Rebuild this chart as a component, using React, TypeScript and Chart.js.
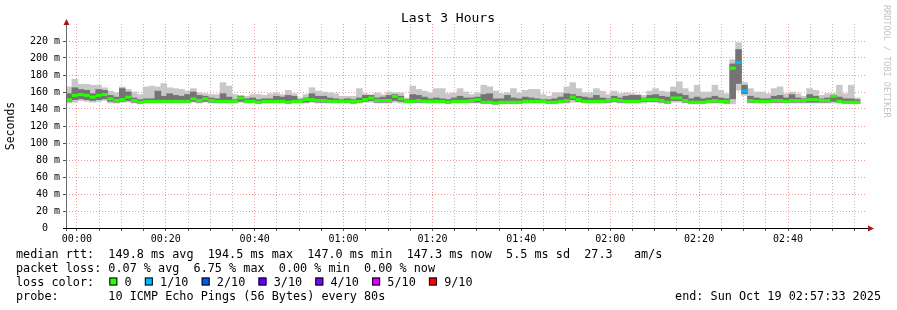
import React, { useEffect, useRef } from "react";
import { Chart, registerables } from "chart.js";

Chart.register(...registerables);

// time axis: minutes since 00:00, window ends at 02:57:33, 80 s steps
const START_MIN = -2.45;
const WINDOW_MIN = 180;
const STEP_MIN = 80 / 60;

const yTickValues = [0, 20, 40, 60, 80, 100, 120, 140, 160, 180, 200, 220];
const yTickLabels = ["0  ", "20 m", "40 m", "60 m", "80 m", "100 m", "120 m", "140 m", "160 m", "180 m", "200 m", "220 m"];
const xTickLabels = ["00:00", "00:20", "00:40", "01:00", "01:20", "01:40", "02:00", "02:20", "02:40"];

// median rtt (ms) per 80 s step
const medianRtt = [
  151, 156, 157, 156, 154, 156, 157, 152, 150, 151,
  154, 150, 148, 149, 149, 149, 149, 149, 149, 149,
  149, 152, 150, 152, 150, 149, 149, 149, 149, 153,
  149, 149, 148, 149, 149, 149, 149, 148, 149, 149,
  151, 151, 150, 150, 149, 149, 149, 149, 149, 149,
  151, 153, 150, 150, 150, 155, 152, 149, 149, 150,
  149, 149, 149, 149, 148, 149, 149, 149, 150, 151,
  148, 148, 147, 148, 148, 148, 148, 149, 149, 149,
  149, 148, 148, 149, 150, 154, 151, 149, 149, 149,
  149, 150, 151, 150, 149, 149, 149, 151, 151, 151,
  150, 148, 153, 153, 150, 148, 148, 148, 149, 150,
  149, 149, 188, 194.5, 161, 150, 149, 149, 149, 150,
  150, 149, 150, 150, 150, 151, 151, 150, 150, 155,
  149, 148, 148, 148,
];
// max ping (top of smoke)
const smokeHi = [
  166, 175, 169, 169, 168, 168, 165, 161, 159, 166,
  163, 160, 157, 166, 167, 166, 170, 165, 164, 163,
  161, 164, 159, 158, 157, 157, 171, 167, 157, 156,
  155, 157, 157, 156, 158, 159, 157, 162, 158, 153,
  157, 165, 161, 160, 159, 158, 155, 155, 155, 164,
  158, 157, 159, 157, 160, 159, 159, 153, 167, 163,
  161, 159, 164, 164, 158, 159, 164, 160, 157, 159,
  168, 166, 161, 158, 159, 164, 159, 162, 163, 163,
  157, 155, 159, 159, 166, 171, 164, 159, 159, 164,
  161, 157, 161, 158, 159, 158, 157, 156, 161, 164,
  161, 160, 166, 172, 164, 160, 168, 160, 160, 168,
  162, 158, 198, 218, 171, 164, 160, 160, 158, 164,
  166, 158, 160, 158, 155, 164, 162, 156, 158, 158,
  168, 158, 168, 153,
];
// min ping (bottom of smoke)
const smokeLo = [
  147, 148, 150, 149, 148, 149, 150, 147, 147, 148,
  148, 147, 146, 147, 147, 147, 147, 147, 147, 147,
  147, 148, 147, 148, 147, 147, 147, 147, 147, 148,
  147, 147, 146, 147, 147, 147, 147, 146, 147, 147,
  147, 148, 147, 147, 147, 147, 147, 147, 146, 147,
  148, 148, 147, 147, 147, 148, 147, 147, 147, 147,
  147, 147, 147, 147, 146, 147, 147, 147, 147, 147,
  146, 146, 145, 146, 146, 146, 146, 147, 147, 147,
  147, 146, 146, 147, 147, 148, 148, 147, 147, 147,
  147, 147, 148, 147, 147, 147, 147, 147, 148, 148,
  147, 146, 148, 148, 147, 146, 146, 146, 147, 147,
  147, 146, 146, 162, 156, 147, 147, 147, 147, 147,
  147, 147, 147, 147, 147, 147, 147, 147, 147, 147,
  147, 146, 146, 146,
];
// inner pings (darker smoke)
const coreHi = [
  158, 165, 163, 162, 158, 163, 162, 156, 154, 164,
  160, 153, 151, 152, 152, 161, 155, 158, 156, 155,
  157, 160, 156, 155, 153, 152, 158, 154, 151, 155,
  152, 153, 151, 152, 152, 155, 154, 156, 155, 151,
  153, 158, 155, 155, 153, 152, 151, 152, 151, 153,
  156, 156, 153, 154, 156, 157, 155, 151, 157, 156,
  154, 152, 153, 152, 151, 153, 155, 153, 153, 154,
  157, 158, 152, 152, 156, 153, 152, 154, 153, 152,
  151, 151, 152, 154, 158, 157, 155, 154, 153, 156,
  153, 152, 155, 153, 155, 156, 156, 153, 156, 157,
  155, 154, 160, 158, 156, 152, 154, 152, 153, 155,
  153, 152, 193, 210, 168, 155, 153, 152, 152, 155,
  156, 153, 157, 153, 152, 157, 155, 152, 153, 156,
  154, 152, 152, 151,
];
const coreLo = [
  149, 151, 152, 151, 150, 151, 152, 149, 148, 149,
  150, 148, 147, 148, 148, 148, 148, 148, 148, 148,
  148, 149, 148, 149, 148, 148, 148, 148, 148, 149,
  148, 148, 147, 148, 148, 148, 148, 147, 148, 148,
  148, 149, 148, 148, 148, 148, 148, 148, 147, 148,
  149, 150, 148, 148, 148, 150, 149, 148, 148, 148,
  148, 148, 148, 148, 147, 148, 148, 148, 148, 148,
  147, 147, 146, 147, 147, 147, 147, 148, 148, 148,
  148, 147, 147, 148, 148, 151, 149, 148, 148, 148,
  148, 148, 149, 148, 148, 148, 148, 149, 149, 149,
  148, 147, 150, 150, 148, 147, 147, 147, 148, 148,
  148, 147, 152, 170, 158, 148, 148, 148, 148, 148,
  148, 148, 148, 148, 148, 148, 148, 148, 148, 149,
  148, 147, 147, 147,
];
// lost pings out of 10, per step
const lostPings = [
  0, 0, 0, 0, 0, 0, 0, 0, 0, 0,
  0, 0, 0, 0, 0, 0, 0, 0, 0, 0,
  0, 0, 0, 0, 0, 0, 0, 0, 0, 0,
  0, 0, 0, 0, 0, 0, 0, 0, 0, 0,
  0, 0, 0, 0, 0, 0, 0, 0, 0, 0,
  0, 0, 0, 0, 0, 0, 0, 0, 0, 0,
  0, 0, 0, 0, 0, 0, 0, 0, 0, 0,
  0, 0, 0, 0, 0, 0, 0, 0, 0, 0,
  0, 0, 0, 0, 0, 0, 0, 0, 0, 0,
  0, 0, 0, 0, 0, 0, 0, 0, 0, 0,
  0, 0, 0, 0, 0, 0, 0, 0, 0, 0,
  0, 0, 0, 1, 1, 0, 0, 0, 0, 0,
  0, 0, 0, 0, 0, 0, 0, 0, 0, 0,
  0, 0, 0, 0,
];

const lossLabels = ["0", "1/10", "2/10", "3/10", "4/10", "5/10", "9/10"];
const lossLevels = [0, 1, 2, 3, 4, 5, 9];
const lossColors = ["#26ff00", "#00b8ff", "#0059ff", "#5e00ff", "#7e00ff", "#dd00ff", "#ff0000"];

const legendRtt = "median rtt:  149.8 ms avg  194.5 ms max  147.0 ms min  147.3 ms now  5.5 ms sd  27.3   am/s";
const legendLoss = "packet loss: 0.07 % avg  6.75 % max  0.00 % min  0.00 % now";
const legendProbe = "probe:       10 ICMP Echo Pings (56 Bytes) every 80s";
const legendEnd = "end: Sun Oct 19 02:57:33 2025";
const titleText = "Last 3 Hours";
const yTitle = "Seconds";
const watermark = "RRDTOOL / TOBI OETIKER";

const MONO = '"DejaVu Sans Mono", monospace';

function colorForLoss(n: number) {
  let c = lossColors[0];
  for (let k = 0; k < lossLevels.length; k++) if (n >= lossLevels[k]) c = lossColors[k];
  return c;
}

const decorPlugin = {
  id: "decor",
  afterDraw(chart: any) {
    const ctx = chart.ctx as CanvasRenderingContext2D;
    const { left, right, top, bottom } = chart.chartArea;
    ctx.save();
    // axes
    ctx.lineWidth = 1;
    ctx.strokeStyle = "#6a6a6a";
    ctx.beginPath();
    ctx.moveTo(left + 0.5, bottom + 3);
    ctx.lineTo(left + 0.5, top - 3);
    ctx.stroke();
    ctx.strokeStyle = "#000000";
    ctx.beginPath();
    ctx.moveTo(left - 3, bottom + 0.5);
    ctx.lineTo(right + 3, bottom + 0.5);
    ctx.stroke();
    // arrows
    ctx.fillStyle = "#a01818";
    ctx.beginPath();
    ctx.moveTo(left + 0.5, top - 5);
    ctx.lineTo(left - 2.5, top + 1);
    ctx.lineTo(left + 3.5, top + 1);
    ctx.closePath();
    ctx.fill();
    ctx.beginPath();
    ctx.moveTo(right + 8, bottom + 0.5);
    ctx.lineTo(right + 2, bottom - 2.5);
    ctx.lineTo(right + 2, bottom + 3.5);
    ctx.closePath();
    ctx.fill();

    // title
    ctx.fillStyle = "#000";
    ctx.font = `13px ${MONO}`;
    ctx.textAlign = "center";
    ctx.textBaseline = "middle";
    ctx.fillText(titleText, 448, 19);

    // y title
    ctx.save();
    ctx.translate(11, (top + bottom) / 2);
    ctx.rotate(-Math.PI / 2);
    ctx.font = `11.5px ${MONO}`;
    ctx.fillText(yTitle, 0, 0);
    ctx.restore();

    // watermark
    ctx.save();
    ctx.translate(886, 5);
    ctx.rotate(Math.PI / 2);
    ctx.font = `8.5px ${MONO}`;
    ctx.fillStyle = "#c4c4c4";
    ctx.textAlign = "left";
    ctx.fillText(watermark, 0, 0);
    ctx.restore();

    // legend
    ctx.font = `11.8px ${MONO}`;
    ctx.textAlign = "left";
    ctx.fillStyle = "#000";
    const x0 = 16;
    ctx.fillText(legendRtt, x0, 255);
    ctx.fillText(legendLoss, x0, 268.5);
    const row3 = "loss color:  ";
    const cw = ctx.measureText("0").width;
    let x = x0 + ctx.measureText(row3).width;
    ctx.fillText("loss color:", x0, 282.5);
    for (let k = 0; k < lossLabels.length; k++) {
      ctx.fillStyle = lossColors[k];
      ctx.fillRect(x + 1, 277.5, 8, 8);
      ctx.strokeStyle = "#000";
      ctx.lineWidth = 1;
      ctx.strokeRect(x + 1.5, 278, 7, 7);
      ctx.fillStyle = "#000";
      ctx.fillText(lossLabels[k], x + cw * 2 + 2, 282.5);
      x += cw * (2 + lossLabels[k].length + 2);
    }
    ctx.fillText(legendProbe, x0, 296.5);
    ctx.textAlign = "right";
    ctx.fillText(legendEnd, 881, 296.5);
    ctx.restore();
  },
};

export default function App() {
  const ref = useRef<HTMLCanvasElement | null>(null);
  useEffect(() => {
    document.body.style.margin = "0";
    const canvas = ref.current;
    if (!canvas) return;
    const times = medianRtt.map((_, i) => START_MIN + (i + 0.5) * STEP_MIN);
    const chart = new Chart(canvas, {
      type: "bar",
      data: {
        datasets: [
          {
            type: "line",
            label: "median",
            data: times.map((t, i) => ({ x: t, y: medianRtt[i] })),
            showLine: false,
            pointStyle: "line",
            pointRadius: 3,
            pointBorderWidth: 3,
            pointBorderColor: lostPings.map(colorForLoss),
            pointHitRadius: 0,
            order: 0,
          } as any,
          {
            label: "core",
            data: times.map((t, i) => ({ x: t, y: [coreLo[i], coreHi[i]] })),
            backgroundColor: "#747474",
            borderWidth: 0,
            barPercentage: 1,
            categoryPercentage: 1,
            grouped: false,
            order: 1,
          } as any,
          {
            label: "smoke",
            data: times.map((t, i) => ({ x: t, y: [smokeLo[i], smokeHi[i]] })),
            backgroundColor: "#c8c8c8",
            borderWidth: 0,
            barPercentage: 1,
            categoryPercentage: 1,
            grouped: false,
            order: 2,
          } as any,
        ],
      },
      options: {
        responsive: false,
        animation: false,
        devicePixelRatio: 1,
        events: [],
        layout: { padding: { left: 30, top: 24, right: 31, bottom: 62 } },
        plugins: { legend: { display: false }, tooltip: { enabled: false }, title: { display: false } },
        scales: {
          x: {
            type: "linear",
            offset: false,
            min: START_MIN,
            max: START_MIN + WINDOW_MIN,
            afterBuildTicks: (scale: any) => {
              const out: any[] = [];
              for (let v = 0; v <= START_MIN + WINDOW_MIN; v += 5) out.push({ value: v });
              scale.ticks = out;
            },
            afterFit: (scale: any) => {
              scale.height = 20;
            },
            ticks: {
              autoSkip: false,
              maxRotation: 0,
              padding: 2,
              color: "#000",
              font: { family: MONO, size: 10 },
              callback: (v: any) => {
                const m = Math.round(Number(v));
                if (m % 20 !== 0) return "";
                return xTickLabels[m / 20] ?? "";
              },
            },
            grid: {
              color: (c: any) => (Math.round(c.tick.value) % 20 === 0 ? "rgba(240,120,120,0.75)" : "rgba(170,170,170,0.8)"),
              lineWidth: 1,
              tickLength: 3,
              tickColor: "#555",
              offset: false,
            },
            border: { display: false, dash: [1, 2] },
          },
          y: {
            type: "linear",
            min: 0,
            max: 240,
            afterBuildTicks: (scale: any) => {
              const out: any[] = [];
              for (let v = 0; v <= 230; v += 10) out.push({ value: v });
              scale.ticks = out;
            },
            afterFit: (scale: any) => {
              scale.width = 36;
            },
            ticks: {
              padding: 3,
              color: "#000",
              font: { family: MONO, size: 10 },
              callback: (v: any) => {
                const idx = yTickValues.indexOf(Math.round(Number(v)));
                return idx >= 0 ? yTickLabels[idx] : "";
              },
            },
            grid: {
              color: (c: any) => (Math.round(c.tick.value) % 20 === 0 ? "rgba(240,120,120,0.75)" : "rgba(170,170,170,0.8)"),
              lineWidth: 1,
              tickLength: 3,
              tickColor: "#555",
            },
            border: { display: false, dash: [1, 2] },
          },
        },
      } as any,
      plugins: [decorPlugin],
    });
    return () => chart.destroy();
  }, []);
  return (
    <canvas
      ref={ref}
      width={897}
      height={310}
      style={{ display: "block", width: 897, height: 310, background: "#fff" }}
    />
  );
}
